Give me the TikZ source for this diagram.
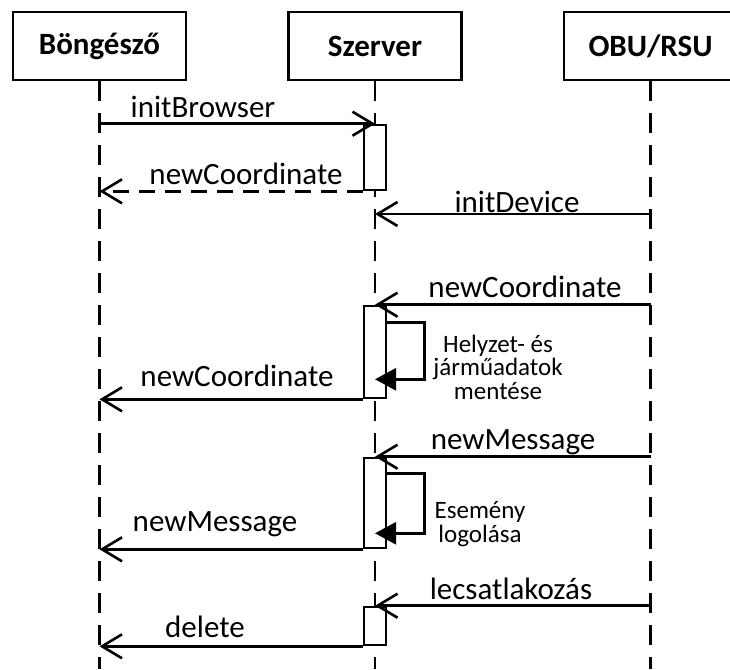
\documentclass[tikz,border=0pt]{standalone}
\usepackage{fontspec}
\setmainfont{Carlito}
\usepackage{tikz}
\usetikzlibrary{arrows.meta}
\tikzstyle{seq}=[x=1pt, y=-1pt, line width=2.6pt, font=\fontsize{31}{37}\selectfont]
\tikzstyle{head}=[rectangle, draw, fill=white, minimum width=173pt, minimum height=68pt, font=\fontsize{31}{37}\selectfont\bfseries]
\tikzstyle{act}=[rectangle, draw, fill=white, minimum width=22pt, inner sep=0pt]
\tikzstyle{life}=[dash pattern=on 20pt off 12pt]
\tikzstyle{msg}=[-{Straight Barb[length=20pt, width=24pt]}]
\tikzstyle{ret}=[msg, dash pattern=on 16pt off 10pt]
\tikzstyle{selfloop}=[-{Triangle[length=21pt, width=22pt]}]
\tikzstyle{lbl}=[inner sep=0pt, anchor=base]
\tikzstyle{note}=[inner sep=0pt, anchor=base, font=\fontsize{25}{24}\selectfont]

\begin{document}
\begin{tikzpicture}[seq]
	\useasboundingbox (0,0) rectangle (730,669);
	\coordinate (bot) at (0,669);

	%The header boxes
	\draw (99.5,46) node[head] (brw) {Böngésző};
	\draw (375,46) node[head] (srv) {Szerver};
	\draw (650.5,46) node[head] (obu) {OBU/RSU};

	%The lifelines
	\draw[life] (brw.south) -- (brw.south |- bot);
	\draw[life] (srv.south) -- (srv.south |- bot);
	\draw[life] (obu.south) -- (obu.south |- bot);

	%The activation boxes
	\draw (375,157.5) node[act, minimum height=65pt] (a1) {};
	\draw (375,352) node[act, minimum height=92pt] (a2) {};
	\draw (375,503) node[act, minimum height=90pt] (a3) {};
	\draw (375,626) node[act, minimum height=38pt] (a4) {};
	\coordinate (d1) at (375,214);

	%The messages
	\draw[msg] (brw.south |- a1.north) -- (a1.north);
	\draw[ret] (a1.south west) -- (brw.south |- a1.south);
	\draw[msg] (obu.south |- d1) -- (d1);
	\draw[msg] (obu.south |- a2.north) -- (a2.north);
	\draw[selfloop] ([yshift=-18pt]a2.north east) -- ++(37,0) |- ([yshift=20pt]a2.south);
	\draw[msg] (a2.south west) -- (brw.south |- a2.south);
	\draw[msg] (obu.south |- a3.north) -- (a3.north);
	\draw[selfloop] ([yshift=-17pt]a3.north east) -- ++(37,0) |- ([yshift=16pt]a3.south);
	\draw[msg] (a3.south west) -- (brw.south |- a3.south);
	\draw[msg] (obu.south |- a4.north) -- (a4.north);
	\draw[msg] (a4.south west) -- (brw.south |- a4.south);

	%The labels
	\draw (203,117) node[lbl] (l-init) {initBrowser};
	\draw (246,184) node[lbl] (l-coord1) {newCoordinate};
	\draw (517,212) node[lbl] (l-dev) {initDevice};
	\draw (525,297) node[lbl] (l-coord2) {newCoordinate};
	\draw (237,386) node[lbl] (l-coord3) {newCoordinate};
	\draw (513,449) node[lbl] (l-msg1) {newMessage};
	\draw (215,531) node[lbl] (l-msg2) {newMessage};
	\draw (511,599) node[lbl] (l-disc) {lecsatlakozás};
	\draw (205,637) node[lbl] (l-del) {delete};

	%The notes at the loops
	\draw (498,352) node[note] (n1a) {Helyzet- és};
	\draw (498,375.5) node[note] (n1b) {járműadatok};
	\draw (498,399) node[note] (n1c) {mentése};
	\draw (480,518) node[note] (n2a) {Esemény};
	\draw (480,542) node[note] (n2b) {logolása};
\end{tikzpicture}
\end{document}
